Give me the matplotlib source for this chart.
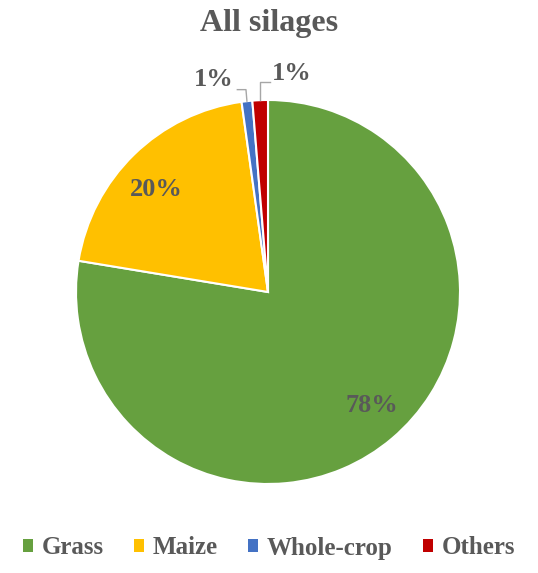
import matplotlib
matplotlib.use("Agg")
import matplotlib.pyplot as plt
import numpy as np

categories = ["Grass", "Maize", "Whole-crop", "Others"]
values = [77.6, 20.2, 0.9, 1.3]
labels = ["78%", "20%", "1%", "1%"]
colors = ["#66A03F", "#FFC000", "#4472C4", "#C00000"]
title = "All silages"

txt = "#595959"
plt.rcParams['font.family'] = ['Liberation Serif', 'DejaVu Serif']

W, H = 538, 573
fig = plt.figure(figsize=(W / 100, H / 100), dpi=100)
cx, cy, r = 268, 292, 192
ax = fig.add_axes([(cx - r) / W, 1 - (cy + r) / H, 2 * r / W, 2 * r / H])
wedges, _ = ax.pie(values, colors=colors, startangle=90, counterclock=False,
                   wedgeprops=dict(edgecolor="white", linewidth=1.5))
ax.set_xlim(-1, 1)
ax.set_ylim(-1, 1)
ax.set_aspect("equal")
ax.axis("off")

cum = np.cumsum([0] + values)
total = sum(values)
mids = [90 - 360 * (cum[i] + values[i] / 2) / total for i in range(len(values))]

# inside labels
for i, rr in [(0, 0.80), (1, 0.79)]:
    a = np.deg2rad(mids[i] + (3 if i == 1 else 2))
    ax.text(rr * np.cos(a), rr * np.sin(a), labels[i], ha="center", va="center",
            fontsize=19, fontweight="bold", color=txt)

# outside labels with leader lines
lc = "#A6A6A6"
a2 = np.deg2rad(mids[2])
x2, y2 = np.cos(a2), np.sin(a2)
ax.plot([x2, x2 - 0.005, x2 - 0.05], [y2, y2 + 0.06, y2 + 0.06], color=lc, lw=1, clip_on=False)
ax.text(x2 - 0.07, y2 + 0.115, labels[2], ha="right", va="center",
        fontsize=19, fontweight="bold", color=txt)
a3 = np.deg2rad(mids[3])
x3, y3 = np.cos(a3), np.sin(a3)
ax.plot([x3, x3, x3 + 0.05], [y3, y3 + 0.094, y3 + 0.094], color=lc, lw=1, clip_on=False)
ax.text(x3 + 0.06, y3 + 0.14, labels[3], ha="left", va="center",
        fontsize=19, fontweight="bold", color=txt)

fig.text(0.5, 1 - 24 / H, title, ha="center", va="center",
         fontsize=23, fontweight="bold", color=txt)

leg = fig.legend(wedges, categories, loc="center", bbox_to_anchor=(0.5, 1 - 548 / H),
                 ncol=4, frameon=False, handlelength=0.4, handleheight=0.4,
                 handletextpad=0.35, columnspacing=1.2, prop=dict(weight="bold", size=18))
for t in leg.get_texts():
    t.set_color(txt)
for p in leg.get_patches():
    p.set_edgecolor("none")

fig.savefig("out.png", dpi=100)
